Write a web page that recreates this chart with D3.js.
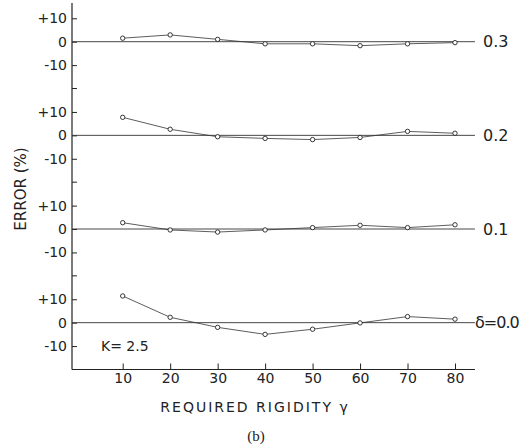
<!DOCTYPE html>
<html>
<head>
<meta charset="utf-8">
<script src="https://cdn.jsdelivr.net/npm/d3@7"></script>
<style>
  body { margin: 0; background: #fff; }
  text { font-family: "DejaVu Sans", "Liberation Sans", sans-serif; fill: #222; }
</style>
</head>
<body>
<div id="chart"></div>
<script>
var svgWidth = 524;
var svgHeight = 447;

// data
var rigidity = [10, 20, 30, 40, 50, 60, 70, 80];
var deltas = ["0.0", "0.1", "0.2", "0.3"];
var err00 = [11.4, 2.3, -2.0, -5.0, -2.8, -0.1, 2.6, 1.5];
var err01 = [2.7, -0.4, -1.3, -0.4, 0.6, 1.6, 0.6, 1.8];
var err02 = [7.7, 2.6, -0.6, -1.3, -1.8, -0.9, 1.7, 0.9];
var err03 = [1.5, 2.9, 1.0, -0.9, -0.9, -1.7, -0.9, -0.4];
var panelTicks = [10, 0, -10];
var panelTickLabels = ["+10", "0", "-10"];
var xTicks = [10, 20, 30, 40, 50, 60, 70, 80];

var series = [err00, err01, err02, err03];
var panelStep = 40; // each panel spans -20..+20

var svg = d3.select("#chart")
  .append("svg")
  .attr("width", svgWidth)
  .attr("height", svgHeight);

var x = d3.scaleLinear()
  .domain([10, 80])
  .range([122.7, 455]);

// one stacked scale: panel k sits at offset k * panelStep
var y = d3.scaleLinear()
  .domain([-20, 120])
  .range([369.5, 41.7]);

var axisLeftX = 72;
var axisRightX = x(84.2);

// frame: left axis + bottom axis
svg.append("line")
  .attr("x1", axisLeftX).attr("x2", axisLeftX)
  .attr("y1", 3).attr("y2", y(-20))
  .attr("stroke", "#222").attr("stroke-width", 1.2);

svg.append("line")
  .attr("x1", axisLeftX).attr("x2", axisRightX)
  .attr("y1", y(-20)).attr("y2", y(-20))
  .attr("stroke", "#222").attr("stroke-width", 1.2);

// x ticks (inside) and labels
var xAxis = d3.axisBottom(x)
  .tickValues(xTicks)
  .tickSize(-6)
  .tickPadding(4)
  .tickFormat(d3.format("d"));

var gx = svg.append("g")
  .attr("transform", `translate(0, ${y(-20)})`)
  .call(xAxis);
gx.select(".domain").remove();
gx.selectAll(".tick line").attr("stroke", "#222");
gx.selectAll(".tick text")
  .attr("font-size", 14)
  .attr("fill", "#222")
  .style("font-family", "DejaVu Sans, sans-serif");

// panels
series.forEach(function(vals, k) {
  var off = k * panelStep;

  // left ticks: +10, 0, -10 labelled, -20 unlabelled
  var tickVals = panelTicks.map(d => d + off);
  var yAxis = d3.axisLeft(y)
    .tickValues(tickVals)
    .tickSize(-5)
    .tickPadding(5)
    .tickFormat((d, i) => panelTickLabels[i]);
  var gy = svg.append("g")
    .attr("transform", `translate(${axisLeftX}, 0)`)
    .call(yAxis);
  gy.select(".domain").remove();
  gy.selectAll(".tick line").attr("stroke", "#222");
  gy.selectAll(".tick text")
    .attr("font-size", 14)
    .attr("fill", "#222")
    .style("font-family", "DejaVu Sans, sans-serif");

  if (k > 0) {
    svg.append("line")
      .attr("x1", axisLeftX).attr("x2", axisLeftX + 5)
      .attr("y1", y(off - 20)).attr("y2", y(off - 20))
      .attr("stroke", "#222");
  }

  // zero line
  svg.append("line")
    .attr("x1", axisLeftX).attr("x2", axisRightX)
    .attr("y1", y(off)).attr("y2", y(off))
    .attr("stroke", "#333").attr("stroke-width", 0.9);

  var pts = rigidity.map((r, i) => [r, vals[i] + off]);

  svg.append("path")
    .datum(pts)
    .attr("fill", "none")
    .attr("stroke", "#333")
    .attr("stroke-width", 0.8)
    .attr("d", d3.line().x(d => x(d[0])).y(d => y(d[1])));

  svg.selectAll(null)
    .data(pts)
    .enter()
    .append("circle")
    .attr("cx", d => x(d[0]))
    .attr("cy", d => y(d[1]))
    .attr("r", 2.2)
    .attr("fill", "#fff")
    .attr("stroke", "#222")
    .attr("stroke-width", 0.9);

  // delta label on the right
  svg.append("text")
    .attr("x", k === 0 ? 475 : 483)
    .attr("y", y(off))
    .attr("dy", "0.35em")
    .attr("font-size", 16)
    .attr("letter-spacing", k === 0 ? -1 : 0)
    .text(k === 0 ? "δ=" + deltas[k] : deltas[k]);
});

// K label
svg.append("text")
  .attr("x", 101)
  .attr("y", y(-10))
  .attr("dy", "0.35em")
  .attr("font-size", 14)
  .text("K= 2.5");

// axis titles
svg.append("text")
  .attr("transform", `translate(26, 189) rotate(-90)`)
  .attr("text-anchor", "middle")
  .attr("font-size", 15)
  .text("ERROR (%)");

svg.append("text")
  .attr("x", 255)
  .attr("y", 412)
  .attr("text-anchor", "middle")
  .attr("font-size", 14)
  .attr("letter-spacing", 2)
  .text("REQUIRED  RIGIDITY  γ");

svg.append("text")
  .attr("x", 256)
  .attr("y", 441)
  .attr("text-anchor", "middle")
  .attr("font-size", 15)
  .style("font-family", "Liberation Serif, Times New Roman, serif")
  .text("(b)");
</script>
</body>
</html>
